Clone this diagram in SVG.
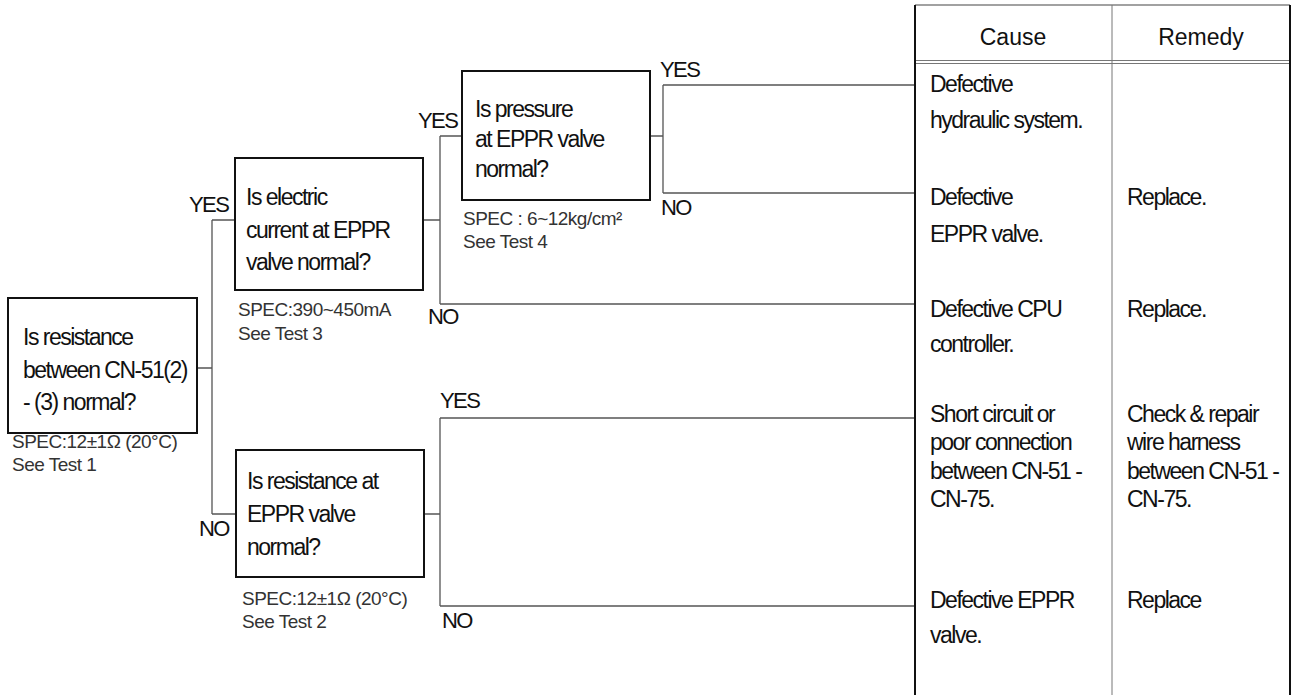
<svg xmlns="http://www.w3.org/2000/svg" width="1298" height="695" viewBox="0 0 1298 695">
<style>
.bg{fill:#ffffff}
.box{fill:#ffffff;stroke:#111;stroke-width:2}
.con{fill:none;stroke:#555;stroke-width:1.3}
.q{font-family:"Liberation Sans",Arial,sans-serif;font-size:23px;letter-spacing:-1.5px;fill:#111}
.spec{font-family:"Liberation Sans",Arial,sans-serif;font-size:19px;letter-spacing:-0.5px;fill:#333}
.lbl{font-family:"Liberation Sans",Arial,sans-serif;font-size:22px;letter-spacing:-1.6px;fill:#111}
.hdr{font-family:"Liberation Sans",Arial,sans-serif;font-size:23px;fill:#111;text-anchor:middle}
.tb{fill:none;stroke:#111;stroke-width:2}
.tt{fill:none;stroke:#444;stroke-width:1.2}
.tg{fill:none;stroke:#777;stroke-width:1}
</style>
<rect class="bg" x="0" y="0" width="1298" height="695"/>

<g id="connectors">
<path class="con" d="M197,368 H212 M212,220 V514 M212,220 H235 M212,514 H236"/>
<path class="con" d="M423,220 H440 M440,136 V304 M440,136 H462 M440,304 H915"/>
<path class="con" d="M650,136 H663 M663,85 V193 M663,85 H915 M663,193 H915"/>
<path class="con" d="M424,514 H440 M440,418 V606 M440,418 H915 M440,606 H915"/>
<text class="lbl" x="189" y="212">YES</text>
<text class="lbl" x="199" y="536">NO</text>
<text class="lbl" x="418" y="128">YES</text>
<text class="lbl" x="428" y="324">NO</text>
<text class="lbl" x="660" y="77">YES</text>
<text class="lbl" x="661" y="215">NO</text>
<text class="lbl" x="440" y="408">YES</text>
<text class="lbl" x="442" y="628">NO</text>
</g>

<g id="node-resistance-cn51">
<rect class="box" x="8" y="298" width="189" height="135"/>
<text class="q" x="23" y="345">Is resistance</text>
<text class="q" x="23" y="377.5">between CN-51(2)</text>
<text class="q" x="23" y="410">- (3) normal?</text>
<text class="spec" x="12" y="448">SPEC:12±1Ω (20°C)</text>
<text class="spec" x="12" y="471">See Test 1</text>
</g>

<g id="node-current-eppr">
<rect class="box" x="235" y="158" width="188" height="132"/>
<text class="q" x="246" y="205">Is electric</text>
<text class="q" x="246" y="237.5">current at EPPR</text>
<text class="q" x="246" y="270">valve normal?</text>
<text class="spec" x="238" y="316">SPEC:390~450mA</text>
<text class="spec" x="238" y="340">See Test 3</text>
</g>

<g id="node-pressure-eppr">
<rect class="box" x="462" y="71" width="188" height="129"/>
<text class="q" x="475" y="116.5">Is pressure</text>
<text class="q" x="475" y="146.5">at EPPR valve</text>
<text class="q" x="475" y="176.5">normal?</text>
<text class="spec" x="463" y="225">SPEC : 6~12kg/cm²</text>
<text class="spec" x="463" y="248">See Test 4</text>
</g>

<g id="node-resistance-eppr">
<rect class="box" x="236" y="450" width="188" height="127"/>
<text class="q" x="247" y="489">Is resistance at</text>
<text class="q" x="247" y="522">EPPR valve</text>
<text class="q" x="247" y="555">normal?</text>
<text class="spec" x="242" y="605">SPEC:12±1Ω (20°C)</text>
<text class="spec" x="242" y="628">See Test 2</text>
</g>

<g id="table">
<path class="tt" d="M915,5 H1290"/>
<path class="tg" d="M915,60.5 H1290 M915,63.5 H1290"/>
<path class="tg" d="M1112,5 V695"/>
<path class="tb" d="M915,5 V695"/>
<path class="tb" d="M1290,5 V695"/>
<text class="hdr" x="1013" y="45">Cause</text>
<text class="hdr" x="1201" y="45">Remedy</text>
</g>

<g id="row-hydraulic">
<text class="q" x="930" y="92">Defective</text>
<text class="q" x="930" y="128">hydraulic system.</text>
</g>
<g id="row-eppr-valve">
<text class="q" x="930" y="205">Defective</text>
<text class="q" x="930" y="242">EPPR valve.</text>
<text class="q" x="1127" y="205">Replace.</text>
</g>
<g id="row-cpu">
<text class="q" x="930" y="317">Defective CPU</text>
<text class="q" x="930" y="352">controller.</text>
<text class="q" x="1127" y="317">Replace.</text>
</g>
<g id="row-short-circuit">
<text class="q" x="930" y="421.5">Short circuit or</text>
<text class="q" x="930" y="450">poor connection</text>
<text class="q" x="930" y="478.5">between CN-51 -</text>
<text class="q" x="930" y="507">CN-75.</text>
<text class="q" x="1127" y="421.5">Check &amp; repair</text>
<text class="q" x="1127" y="450">wire harness</text>
<text class="q" x="1127" y="478.5">between CN-51 -</text>
<text class="q" x="1127" y="507">CN-75.</text>
</g>
<g id="row-eppr-defective">
<text class="q" x="930" y="608">Defective EPPR</text>
<text class="q" x="930" y="643">valve.</text>
<text class="q" x="1127" y="608">Replace</text>
</g>
</svg>
